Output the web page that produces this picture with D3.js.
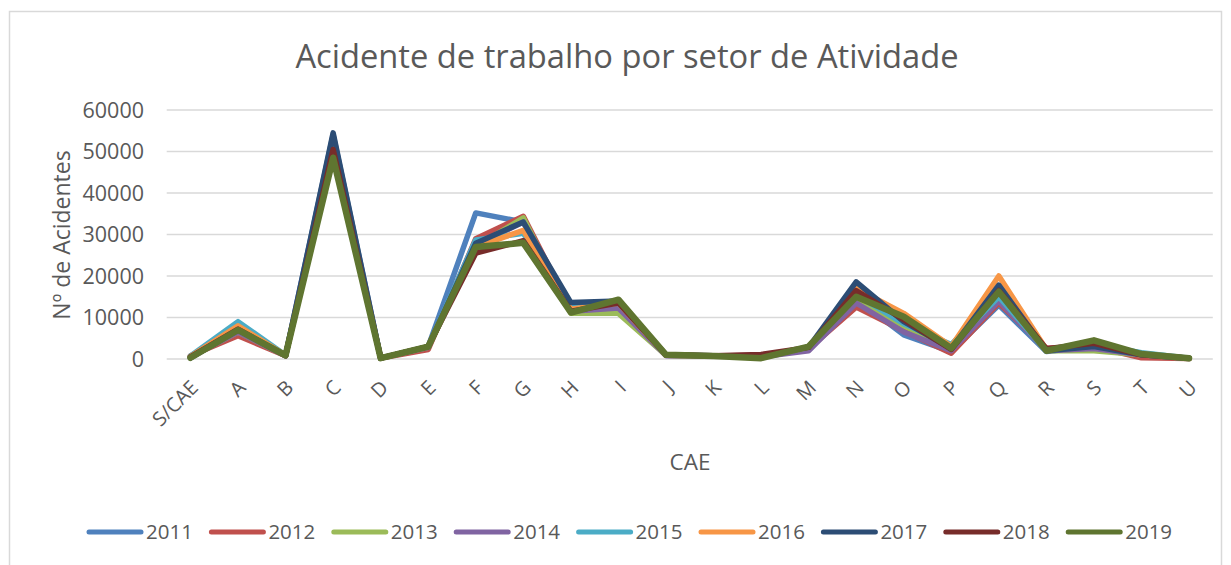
<!DOCTYPE html>
<html>
<head>
<meta charset="utf-8">
<script src="https://cdn.jsdelivr.net/npm/d3@7"></script>
<style>
  body { margin: 0; background: #fff; }
  svg text { font-family: "Open Sans", sans-serif; fill: #595959; }
</style>
</head>
<body>
<svg id="chart" width="1231" height="565"></svg>
<script>
// -------------- DATA ----------------- //
const categories = ["S/CAE", "A", "B", "C", "D", "E", "F", "G", "H", "I", "J", "K", "L", "M", "N", "O", "P", "Q", "R", "S", "T", "U"];
const years = ["2011", "2012", "2013", "2014", "2015", "2016", "2017", "2018", "2019"];
const yTicks = [0, 10000, 20000, 30000, 40000, 50000, 60000];

const v2011 = [300, 7000, 900, 54000, 200, 3000, 35200, 33000, 12500, 13500, 1000, 800, 400, 2800, 14500, 5800, 1800, 13000, 1800, 3000, 1200, 200];
const v2012 = [800, 5600, 800, 52000, 200, 2300, 29000, 34400, 12000, 13000, 900, 700, 900, 2500, 12500, 6800, 1400, 13500, 2600, 3000, 300, 100];
const v2013 = [600, 6500, 800, 50000, 200, 2800, 27000, 34000, 11000, 11000, 900, 700, 600, 2500, 14000, 8000, 2500, 14500, 2000, 2000, 1000, 100];
const v2014 = [500, 6500, 800, 50000, 200, 2800, 27500, 33000, 11500, 12300, 800, 700, 500, 2000, 13500, 6500, 2000, 14000, 2000, 2500, 1000, 100];
const v2015 = [700, 9000, 900, 51000, 200, 3000, 28700, 30300, 12500, 13500, 900, 700, 500, 2800, 15500, 8500, 3500, 15000, 2000, 3500, 1500, 200];
const v2016 = [600, 8000, 900, 51000, 200, 3000, 27000, 31000, 12000, 13500, 900, 700, 600, 2800, 17000, 11000, 3000, 20000, 2300, 3500, 1200, 200];
const v2017 = [300, 7000, 800, 54500, 200, 3000, 27900, 33000, 13600, 14000, 1000, 700, 700, 2800, 18600, 9000, 2500, 17800, 2000, 3000, 1000, 200];
const v2018 = [500, 7200, 800, 50500, 200, 3000, 25500, 28500, 11500, 13500, 1000, 800, 1100, 2800, 16500, 9500, 2300, 16500, 2500, 3800, 1000, 200];
const v2019 = [300, 7000, 900, 48500, 200, 3000, 27000, 28000, 11200, 14300, 1000, 700, 200, 3000, 15000, 10200, 2600, 16200, 2000, 4500, 1200, 200];

const seriesValues = [v2011, v2012, v2013, v2014, v2015, v2016, v2017, v2018, v2019];
const colors = ["#4F81BD", "#C0504D", "#9BBB59", "#8064A2", "#4BACC6", "#F79646", "#2C4D75", "#772C2A", "#5F7530"];

// -------------- LAYOUT ----------------- //
const svg = d3.select("#chart");
const plot = { left: 166.7, right: 1212.8, top: 110, bottom: 359 };

svg.append("rect")
    .attr("x", 9.5).attr("y", 11.5)
    .attr("width", 1212).attr("height", 560)
    .attr("fill", "none").attr("stroke", "#D9D9D9").attr("stroke-width", 1.5);

const x = d3.scaleBand().domain(categories).range([plot.left, plot.right]);
const y = d3.scaleLinear().domain([0, 60000]).range([plot.bottom, plot.top]);

// gridlines
svg.append("g").selectAll("line")
    .data(yTicks)
    .join("line")
    .attr("x1", plot.left).attr("x2", plot.right)
    .attr("y1", d => y(d)).attr("y2", d => y(d))
    .attr("stroke", "#D9D9D9").attr("stroke-width", 1.5);

// y axis labels
svg.append("g").selectAll("text")
    .data(yTicks)
    .join("text")
    .attr("x", 144).attr("y", d => y(d))
    .attr("dy", "0.35em")
    .attr("text-anchor", "end")
    .style("font-size", "21.5px")
    .text(d => d);

// x axis labels, rotated
svg.append("g").selectAll("text")
    .data(categories)
    .join("text")
    .attr("transform", d => `translate(${x(d) + x.bandwidth() / 2 + 4}, 384) rotate(-45)`)
    .attr("text-anchor", "end")
    .attr("dy", "0.35em")
    .style("font-size", "20px")
    .text(d => d);

// series lines
const line = d3.line()
    .x((d, i) => x(categories[i]) + x.bandwidth() / 2)
    .y(d => y(d));

svg.append("g").selectAll("path")
    .data(seriesValues)
    .join("path")
    .attr("d", d => line(d))
    .attr("fill", "none")
    .attr("stroke", (d, i) => colors[i])
    .attr("stroke-width", (d, i) => i === 8 ? 6.5 : 5.5)
    .attr("stroke-linejoin", "round")
    .attr("stroke-linecap", "round");

// title
svg.append("text")
    .attr("x", 627).attr("y", 57)
    .attr("dy", "0.35em")
    .attr("text-anchor", "middle")
    .style("font-size", "32.7px")
    .text("Acidente de trabalho por setor de Atividade");

// axis titles
svg.append("text")
    .attr("transform", "translate(62, 235) rotate(-90)")
    .attr("dy", "0.35em")
    .attr("text-anchor", "middle")
    .style("font-size", "23px")
    .text("Nº de Acidentes");

svg.append("text")
    .attr("x", 690).attr("y", 462)
    .attr("dy", "0.35em")
    .attr("text-anchor", "middle")
    .style("font-size", "22.5px")
    .text("CAE");

// legend
const legend = svg.append("g").selectAll("g")
    .data(years)
    .join("g")
    .attr("transform", (d, i) => `translate(${87 + i * 122.4}, 532)`);

legend.append("line")
    .attr("x1", 2).attr("x2", 54)
    .attr("stroke", (d, i) => colors[i])
    .attr("stroke-width", 5)
    .attr("stroke-linecap", "round");

legend.append("text")
    .attr("x", 59)
    .attr("dy", "0.35em")
    .style("font-size", "20.5px")
    .text(d => d);
</script>
</body>
</html>
